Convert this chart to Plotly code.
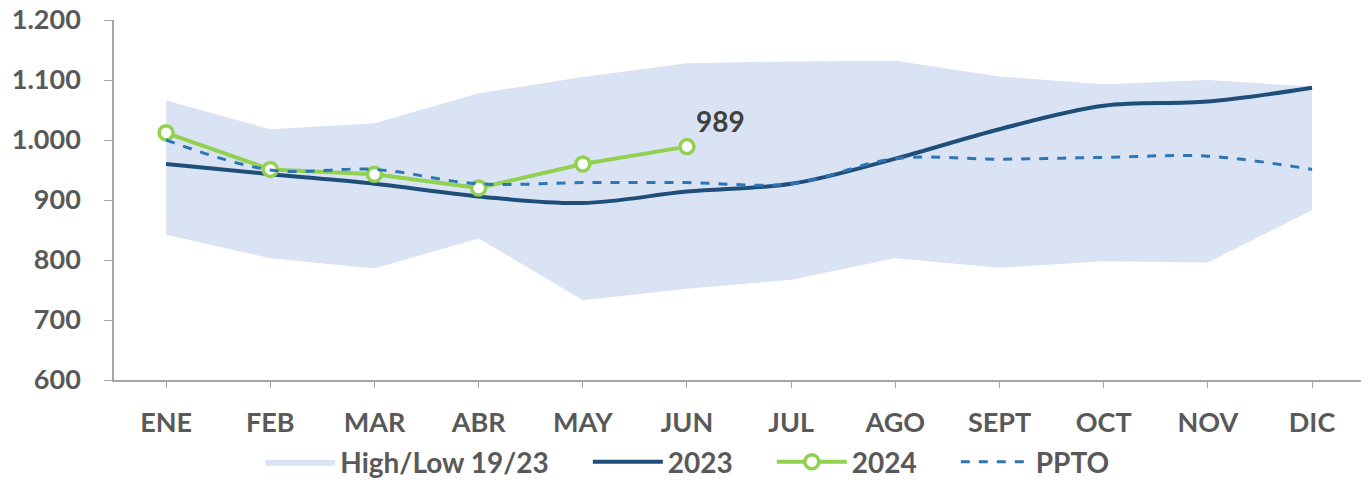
import plotly.graph_objects as go

months = ["ENE", "FEB", "MAR", "ABR", "MAY", "JUN", "JUL", "AGO", "SEPT", "OCT", "NOV", "DIC"]
band_high = [1066, 1018, 1028, 1078, 1105, 1128, 1131, 1132, 1106, 1093, 1100, 1089]
band_low = [842, 803, 786, 836, 733, 752, 767, 803, 787, 798, 796, 883]
y2023 = [960, 943, 927, 906, 895, 914, 927, 969, 1018, 1057, 1064, 1087]
y2024 = [1012, 951, 943, 920, 960, 989]
ppto = [1000, 950, 951, 927, 929, 929, 927, 969, 968, 971, 973, 951]
last_label = "989"
series_names = ["High/Low 19/23", "2023", "2024", "PPTO"]

xs = list(range(len(months)))
FONT = "Lato"
GRAY = "#595959"
FS = 27
PAD = "\u00a0" * 5


def legend_name(i):
    return series_names[i] + (PAD if i < len(series_names) - 1 else "")


fig = go.Figure()
fig.add_trace(go.Scatter(x=xs, y=band_low, mode="lines", line=dict(width=0, color="#DAE3F3"),
                         showlegend=False, hoverinfo="skip"))
fig.add_trace(go.Scatter(x=xs, y=band_high, mode="lines", line=dict(width=0, color="#DAE3F3"),
                         fill="tonexty", fillcolor="#DAE3F3", name=legend_name(0)))
fig.add_trace(go.Scatter(x=xs, y=y2023, mode="lines", line=dict(color="#1F4E79", width=4, shape="spline"),
                         name=legend_name(1)))
fig.add_trace(go.Scatter(x=xs[:len(y2024)], y=y2024, mode="lines+markers",
                         line=dict(color="#92D050", width=4),
                         marker=dict(symbol="circle", size=14, color="white",
                                     line=dict(color="#92D050", width=3.5)),
                         name=legend_name(2)))
fig.add_trace(go.Scatter(x=xs, y=ppto, mode="lines",
                         line=dict(color="#2E75B6", width=3, dash="dash", shape="spline"),
                         name=legend_name(3)))

fig.add_annotation(x=xs[len(y2024) - 1], y=y2024[-1], text=last_label, showarrow=False,
                   xanchor="left", yanchor="bottom", xshift=7, yshift=7,
                   font=dict(family=FONT, size=28, color="#404040", weight="bold"))

fig.update_layout(
    width=1361, height=487,
    margin=dict(l=114, r=0, t=20, b=107),
    plot_bgcolor="white", paper_bgcolor="white",
    separators=",.",
    showlegend=True,
    legend=dict(orientation="h", xref="container", x=0.505, xanchor="center",
                yref="container", y=0.0, yanchor="bottom",
                font=dict(family=FONT, size=28, color=GRAY, weight="bold"),
                traceorder="normal", itemwidth=70),
    xaxis=dict(range=[-0.5, 11.47], tickmode="array", tickvals=xs, ticktext=months,
               automargin=False,
               showgrid=False, zeroline=False, showline=True, linecolor="#A6A6A6", linewidth=1.5,
               ticks="outside", ticklen=6, tickcolor="#A6A6A6", tickson="boundaries",
               ticklabelstandoff=12,
               tickfont=dict(family=FONT, size=FS, color=GRAY, weight="bold")),
    yaxis=dict(range=[600, 1200], tickmode="linear", tick0=600, dtick=100, tickformat=",.0f",
               automargin=False, ticklabeloverflow="allow",
               showgrid=False, zeroline=False, showline=True, linecolor="#A6A6A6", linewidth=1.5,
               ticks="outside", ticklen=8, tickcolor="#A6A6A6", ticklabelstandoff=18,
               tickfont=dict(family=FONT, size=FS, color=GRAY, weight="bold")),
)

fig.write_html("out.html", config={"displayModeBar": False},
               post_script="document.body.style.margin='0';document.body.style.overflow='hidden';")
